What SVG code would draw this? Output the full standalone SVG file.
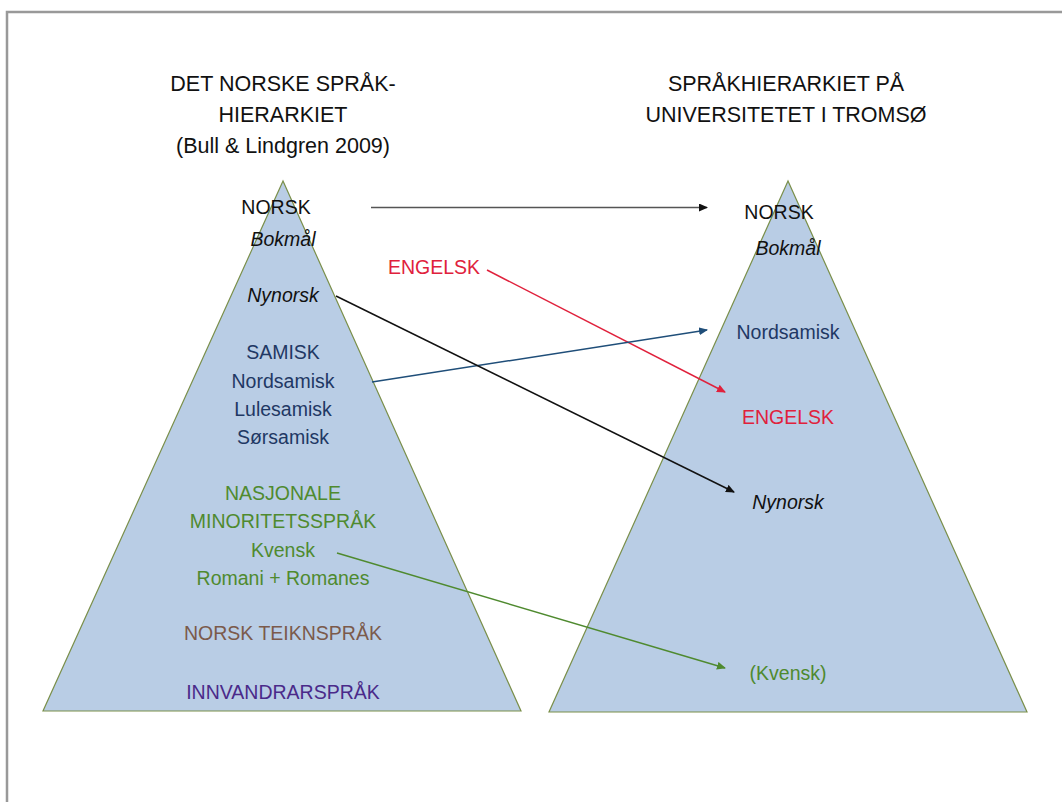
<svg xmlns="http://www.w3.org/2000/svg" width="1062" height="802" viewBox="0 0 1062 802">
<style>
text{font-family:"Liberation Sans",Arial,sans-serif;font-size:19.5px;text-anchor:middle;dominant-baseline:central}
.t{font-size:21.5px;fill:#111}
.it{font-style:italic}
.blk{fill:#111}
.nav{fill:#1f3864}
.grn{fill:#4f8a2f}
.red{fill:#e0213c}
.brn{fill:#7b5a4b}
.pur{fill:#4a2a8a}
.tri{fill:#b9cde5;stroke:#7a8f4a;stroke-width:1.2}
.c{fill:none;stroke-width:1.5}
</style>
<defs>
<marker id="ak" markerWidth="9" markerHeight="8" refX="8" refY="4" orient="auto" markerUnits="userSpaceOnUse"><path d="M0,0 L9,4 L0,8 Z" fill="#111"/></marker>
<marker id="ar" markerWidth="9" markerHeight="8" refX="8" refY="4" orient="auto" markerUnits="userSpaceOnUse"><path d="M0,0 L9,4 L0,8 Z" fill="#e0213c"/></marker>
<marker id="ab" markerWidth="9" markerHeight="8" refX="8" refY="4" orient="auto" markerUnits="userSpaceOnUse"><path d="M0,0 L9,4 L0,8 Z" fill="#1f4e79"/></marker>
<marker id="ag" markerWidth="9" markerHeight="8" refX="8" refY="4" orient="auto" markerUnits="userSpaceOnUse"><path d="M0,0 L9,4 L0,8 Z" fill="#4f8a2f"/></marker>
</defs>
<rect width="1062" height="802" fill="#fff"/>
<path d="M7,802 V12 H1062" fill="none" stroke="#999" stroke-width="2.5"/>
<g id="title-left">
<text class="t" x="283" y="84">DET NORSKE SPRÅK-</text>
<text class="t" x="283" y="115">HIERARKIET</text>
<text class="t" x="283" y="146">(Bull &amp; Lindgren 2009)</text>
</g>
<g id="title-right">
<text class="t" x="786" y="84">SPRÅKHIERARKIET PÅ</text>
<text class="t" x="786" y="115">UNIVERSITETET I TROMSØ</text>
</g>
<g id="pyramid-left">
<polygon class="tri" points="283,181 43,711 521,711"/>
<text class="blk" x="276" y="207">NORSK</text>
<text class="blk it" x="283" y="239">Bokmål</text>
<text class="blk it" x="283" y="295">Nynorsk</text>
<text class="nav" x="283" y="352">SAMISK</text>
<text class="nav" x="283" y="381">Nordsamisk</text>
<text class="nav" x="283" y="409">Lulesamisk</text>
<text class="nav" x="283" y="437">Sørsamisk</text>
<text class="grn" x="283" y="493">NASJONALE</text>
<text class="grn" x="283" y="521">MINORITETSSPRÅK</text>
<text class="grn" x="283" y="550">Kvensk</text>
<text class="grn" x="283" y="578">Romani + Romanes</text>
<text class="brn" x="283" y="633">NORSK TEIKNSPRÅK</text>
<text class="pur" x="283" y="692">INNVANDRARSPRÅK</text>
</g>
<g id="engelsk-left">
<text class="red" x="434" y="267">ENGELSK</text>
</g>
<g id="pyramid-right">
<polygon class="tri" points="788,181 549,712 1027,712"/>
<text class="blk" x="779" y="212">NORSK</text>
<text class="blk it" x="788" y="248">Bokmål</text>
<text class="nav" x="788" y="332">Nordsamisk</text>
<text class="red" x="788" y="417">ENGELSK</text>
<text class="blk it" x="788" y="502">Nynorsk</text>
<text class="grn" x="788" y="673">(Kvensk)</text>
</g>
<g id="connectors">
<line class="c" x1="371" y1="207.5" x2="707" y2="207.5" stroke="#555" stroke-width="2" marker-end="url(#ak)"/>
<line class="c" x1="487" y1="270" x2="725" y2="392" stroke="#e0213c" marker-end="url(#ar)"/>
<line class="c" x1="372" y1="382" x2="707" y2="330" stroke="#1f4e79" marker-end="url(#ab)"/>
<line class="c" x1="336" y1="296" x2="734" y2="492" stroke="#111" marker-end="url(#ak)"/>
<line class="c" x1="337" y1="553" x2="725" y2="668" stroke="#4f8a2f" marker-end="url(#ag)"/>
</g>
</svg>
